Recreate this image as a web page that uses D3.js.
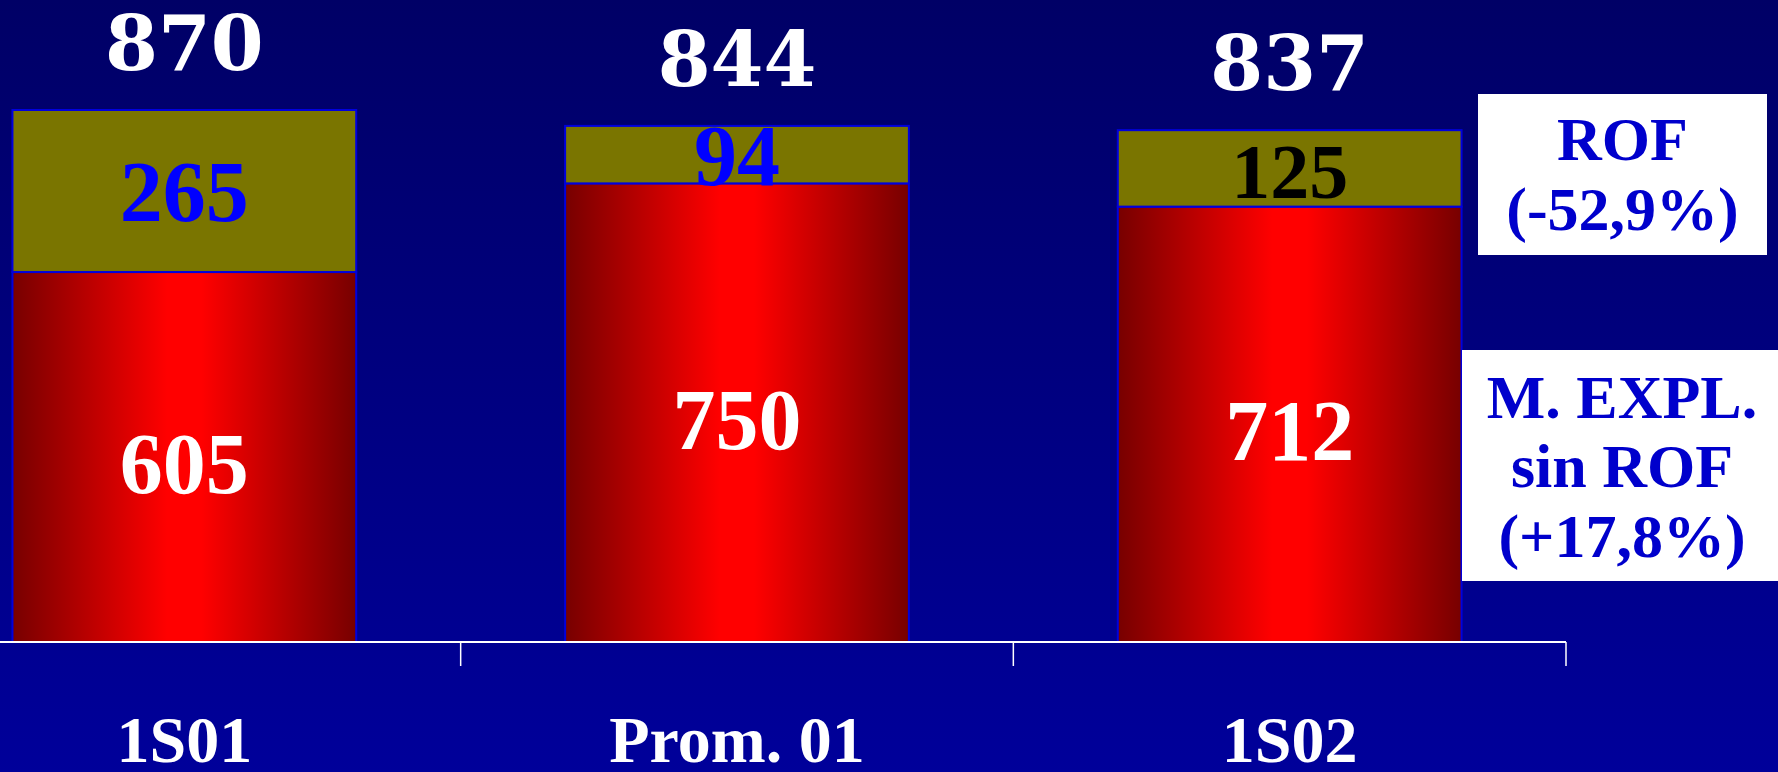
<!DOCTYPE html>
<html><head><meta charset="utf-8">
<script src="https://cdn.jsdelivr.net/npm/d3@7"></script>
<style>html,body{margin:0;padding:0;overflow:hidden;background:#000080}</style>
</head><body>
<script>
const categories = ["1S01", "Prom. 01", "1S02"];
const mExpl = [605, 750, 712];
const rof = [265, 94, 125];
const totals = [870, 844, 837];
const rofLabelColors = ["#0000FF", "#0000FF", "#000000"];
const legendRof = ["ROF", "(-52,9%)"];
const legendMExpl = ["M. EXPL.", "sin ROF", "(+17,8%)"];

const W = 1778, H = 772;
const svg = d3.select("body").append("svg").attr("width", W).attr("height", H);
const defs = svg.append("defs");
const bg = defs.append("linearGradient").attr("id","bg").attr("x1",0).attr("y1",0).attr("x2",0).attr("y2",1);
bg.append("stop").attr("offset","0%").attr("stop-color","#000066");
bg.append("stop").attr("offset","100%").attr("stop-color","#00009A");
const rg = defs.append("linearGradient").attr("id","red").attr("x1",0).attr("y1",0).attr("x2",1).attr("y2",0);
rg.append("stop").attr("offset","0%").attr("stop-color","#770000");
rg.append("stop").attr("offset","45%").attr("stop-color","#FF0000");
rg.append("stop").attr("offset","55%").attr("stop-color","#FF0000");
rg.append("stop").attr("offset","100%").attr("stop-color","#770000");

svg.append("rect").attr("width",W).attr("height",H).attr("fill","url(#bg)");

const baseY = 642, topY = 110;
const y = d3.scaleLinear().domain([0, 870]).range([baseY, topY]);
const x = d3.scaleBand().domain(categories).range([-92, 1566]).paddingInner(0.378).paddingOuter(0.189);

const data = categories.map((c, i) => ({c, m: mExpl[i], r: rof[i], t: totals[i], rc: rofLabelColors[i]}));

const g = svg.append("g");
g.selectAll("rect.m").data(data).join("rect").attr("class","m")
  .attr("x", d => x(d.c)).attr("width", x.bandwidth())
  .attr("y", d => y(d.m)).attr("height", d => y(0) - y(d.m))
  .attr("fill","url(#red)").attr("stroke","#0000DD").attr("stroke-width",2);
g.selectAll("rect.r").data(data).join("rect").attr("class","r")
  .attr("x", d => x(d.c)).attr("width", x.bandwidth())
  .attr("y", d => y(d.m + d.r)).attr("height", d => y(d.m) - y(d.m + d.r))
  .attr("fill","#7A7500").attr("stroke","#0000DD").attr("stroke-width",2);

const step = x.step(), gap = step - x.bandwidth();
svg.append("line").attr("x1", 0).attr("x2", x(categories[2]) + x.bandwidth() + gap/2)
  .attr("y1", baseY).attr("y2", baseY).attr("stroke","#FFFFFF").attr("stroke-width",2);
svg.selectAll("line.tick").data(categories).join("line").attr("class","tick")
  .attr("x1", d => x(d) + x.bandwidth() + gap/2).attr("x2", d => x(d) + x.bandwidth() + gap/2)
  .attr("y1", baseY).attr("y2", baseY + 24).attr("stroke","#FFFFFF").attr("stroke-width",1.5);

const serif = "'Liberation Serif','Times New Roman',serif";
svg.selectAll("text.cat").data(categories).join("text").attr("class","cat")
  .attr("x", d => x(d) + x.bandwidth()/2).attr("y", 762)
  .attr("text-anchor","middle").attr("font-family",serif).attr("font-weight","bold")
  .attr("font-size",66).attr("fill","#FFFFFF").text(d => d);

svg.selectAll("text.tot").data(data).join("text").attr("class","tot")
  .attr("x", d => x(d.c) + x.bandwidth()/2).attr("y", d => y(d.t) - 40)
  .attr("text-anchor","middle").attr("font-family","'DejaVu Serif',serif").attr("font-weight","bold")
  .attr("font-size",76).attr("fill","#FFFFFF").text(d => d.t);

svg.selectAll("text.rl").data(data).join("text").attr("class","rl")
  .attr("x", d => x(d.c) + x.bandwidth()/2).attr("y", d => (y(d.m) + y(d.m + d.r))/2 + 30)
  .attr("text-anchor","middle").attr("font-family",serif).attr("font-weight","bold")
  .attr("font-size", d => d.r === 125 ? 78 : 86).attr("fill", d => d.rc).text(d => d.r);

svg.selectAll("text.ml").data(data).join("text").attr("class","ml")
  .attr("x", d => x(d.c) + x.bandwidth()/2).attr("y", d => (y(0) + y(d.m))/2 + 36)
  .attr("text-anchor","middle").attr("font-family",serif).attr("font-weight","bold")
  .attr("font-size",86).attr("fill","#FFFFFF").text(d => d.m);

function legendBox(x0, y0, w, h, lines, baselines) {
  svg.append("rect").attr("x",x0).attr("y",y0).attr("width",w).attr("height",h).attr("fill","#FFFFFF");
  svg.selectAll(null).data(lines).join("text")
    .attr("x", x0 + w/2).attr("y", (d,i) => baselines[i])
    .attr("text-anchor","middle").attr("font-family",serif).attr("font-weight","bold")
    .attr("font-size",62).attr("fill","#0000CC").text(d => d);
}
legendBox(1478, 94, 289, 161, legendRof, [160, 230]);
legendBox(1462, 350, 320, 231, legendMExpl, [418, 487, 557]);
</script>
</body></html>
